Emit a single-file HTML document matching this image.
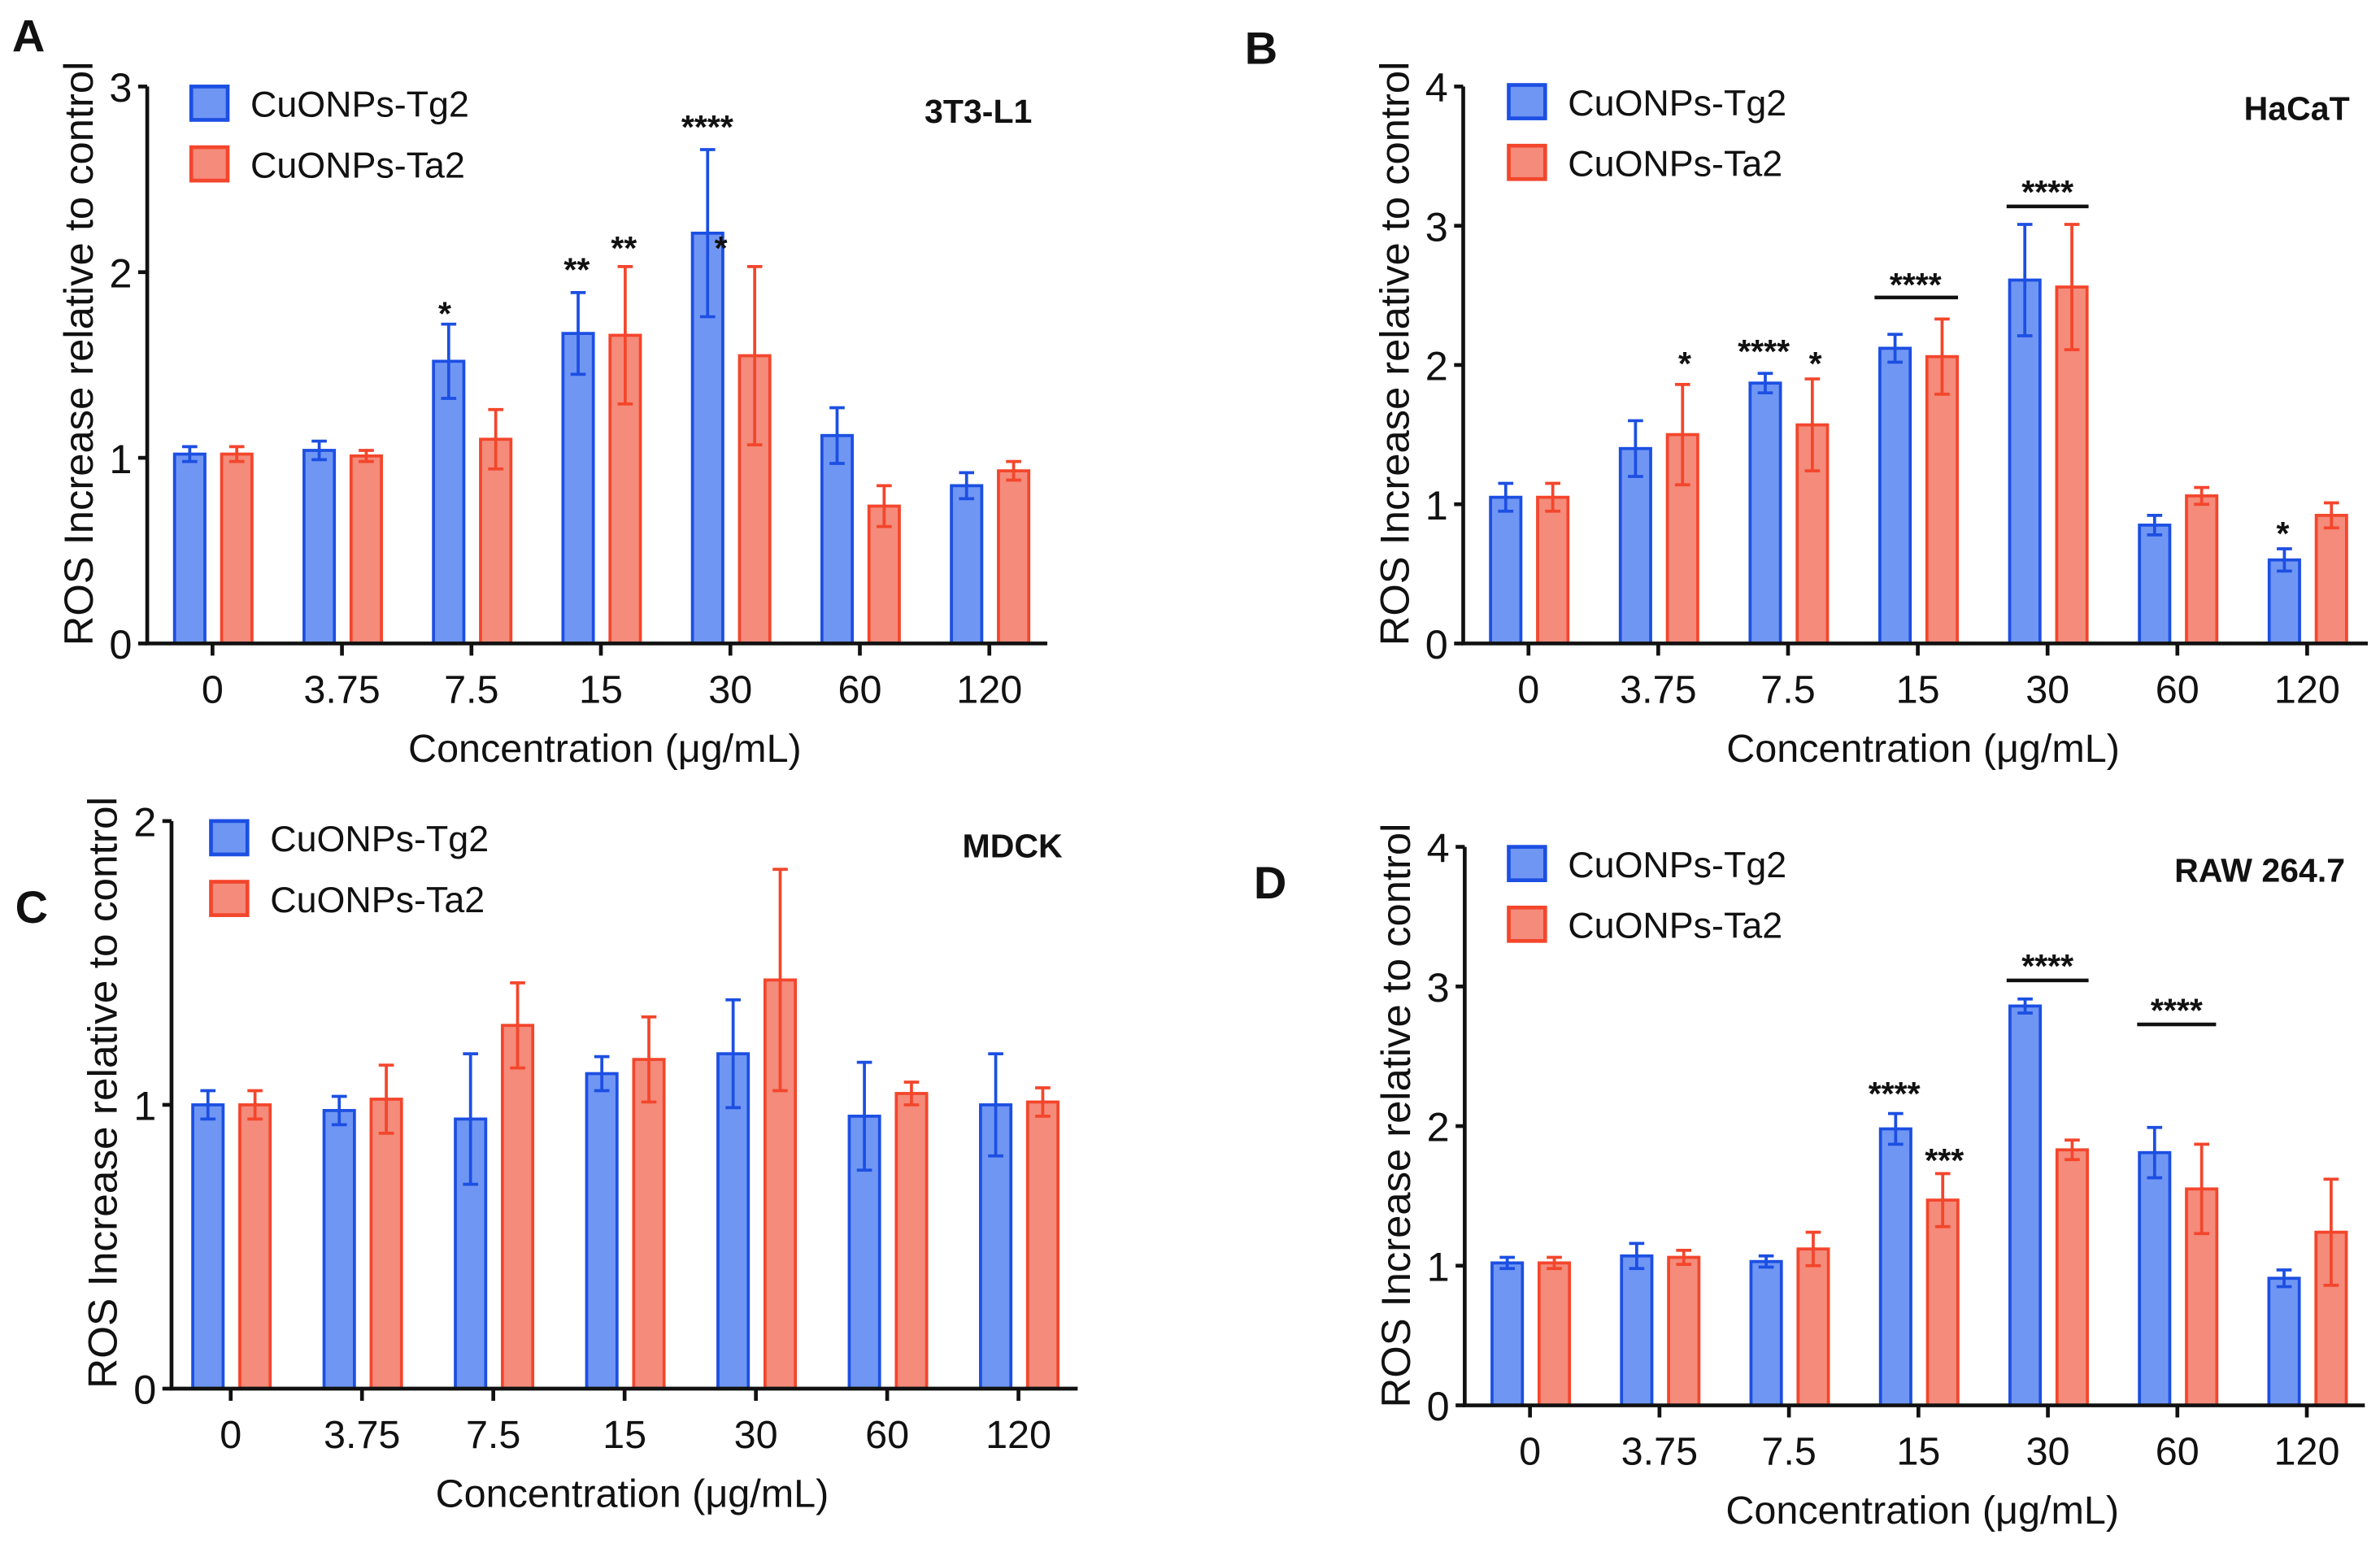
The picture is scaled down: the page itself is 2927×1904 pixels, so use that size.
<!DOCTYPE html>
<html><head><meta charset="utf-8"><style>
html,body{margin:0;padding:0;background:#fff}
svg{display:block}
text{font-family:"Liberation Sans Narrow","Liberation Sans",sans-serif;fill:#111}
</style></head><body>
<svg id="fig" width="2927" height="1904" viewBox="0 0 1568 1020" preserveAspectRatio="none" xmlns="http://www.w3.org/2000/svg"></svg>
<script>
const categories = ["0","3.75","7.5","15","30","60","120"];
const aTg2 = [1.02,1.04,1.52,1.67,2.21,1.12,0.85];
const aTg2Err = [0.04,0.05,0.20,0.22,0.45,0.15,0.07];
const aTa2 = [1.02,1.01,1.10,1.66,1.55,0.74,0.93];
const aTa2Err = [0.04,0.03,0.16,0.37,0.48,0.11,0.05];
const bTg2 = [1.05,1.40,1.87,2.12,2.61,0.85,0.60];
const bTg2Err = [0.10,0.20,0.07,0.10,0.40,0.07,0.08];
const bTa2 = [1.05,1.50,1.57,2.06,2.56,1.06,0.92];
const bTa2Err = [0.10,0.36,0.33,0.27,0.45,0.06,0.09];
const cTg2 = [1.00,0.98,0.95,1.11,1.18,0.96,1.00];
const cTg2Err = [0.05,0.05,0.23,0.06,0.19,0.19,0.18];
const cTa2 = [1.00,1.02,1.28,1.16,1.44,1.04,1.01];
const cTa2Err = [0.05,0.12,0.15,0.15,0.39,0.04,0.05];
const dTg2 = [1.02,1.07,1.03,1.98,2.86,1.81,0.91];
const dTg2Err = [0.04,0.09,0.04,0.11,0.05,0.18,0.06];
const dTa2 = [1.02,1.06,1.12,1.47,1.83,1.55,1.24];
const dTa2Err = [0.04,0.05,0.12,0.19,0.07,0.32,0.38];
const aTicks = [0,1,2,3];
const bTicks = [0,1,2,3,4];
const cTicks = [0,1,2];
const dTicks = [0,1,2,3,4];

const NS="http://www.w3.org/2000/svg";
const svg=document.getElementById('fig');
function mk(tag,attrs,parent){const e=document.createElementNS(NS,tag);for(const k in attrs)e.setAttribute(k,attrs[k]);(parent||svg).appendChild(e);return e;}
const BLUE_F="#7096f4",BLUE_S="#1c4fe2",RED_F="#f48b7b",RED_S="#f3462c";

function panel(p){
  const g=mk('g',{});
  
  
  const ymax=p.ticks[p.ticks.length-1];
  const yS=v=>p.y0-(p.y0-p.yTop)*v/ymax;
  const xS=i=>p.x0tick+i*p.step;
  [[p.tg,p.tgE,-15,BLUE_F,BLUE_S,'tg2'],[p.ta,p.taE,16,RED_F,RED_S,'ta2']].forEach(s=>{
    s[0].forEach((v,i)=>{
      const cx=xS(i)+s[2];
      const r=mk('rect',{x:cx-10,y:yS(v),width:20,height:p.y0-yS(v),fill:s[3],stroke:s[4],'stroke-width':2},g);
      
      
      const e=s[1][i];
      const eb=mk('path',{d:`M${cx} ${yS(v-e)}V${yS(v+e)}M${cx-5} ${yS(v+e)}H${cx+5}M${cx-5} ${yS(v-e)}H${cx+5}`,stroke:s[4],'stroke-width':2,fill:'none'},g);
      
      
    });
  });
  const ax=mk('path',{d:`M${p.ax} ${p.yTop}V${p.y0}H${p.xEnd}`,stroke:'#111','stroke-width':2.5,fill:'none'},g);
  
  
  p.ticks.forEach(t=>{
    mk('path',{d:`M${p.ax-6} ${yS(t)}H${p.ax}`,stroke:'#111','stroke-width':2.5},g);
    const tl=mk('text',{x:p.ax-10,y:yS(t)+10,'text-anchor':'end','font-size':27},g);
    tl.textContent=t;
    
    
  });
  categories.forEach((c,i)=>{
    mk('path',{d:`M${xS(i)} ${p.y0}V${p.y0+8}`,stroke:'#111','stroke-width':2.5},g);
    const tl=mk('text',{x:xS(i),y:p.y0+39,'text-anchor':'middle','font-size':26},g);
    tl.textContent=c;
    
    
  });
  const xt=mk('text',{x:p.ax+(p.xEnd-p.ax)/2+5,y:p.y0+78,'text-anchor':'middle','font-size':26},g);
  xt.textContent='Concentration (μg/mL)';
  
  
  const yt=mk('text',{x:0,y:0,'text-anchor':'middle','font-size':27,textLength:p.ytLen,lengthAdjust:'spacingAndGlyphs',transform:`translate(${p.ax-36},${p.ytCenter}) rotate(-90)`},g);
  yt.textContent='ROS Increase relative to control';
  
  
  [['CuONPs-Tg2',BLUE_F,BLUE_S,0],['CuONPs-Ta2',RED_F,RED_S,40]].forEach(l=>{
    const sw=mk('rect',{x:p.legX,y:p.legY+l[3],width:24,height:22,fill:l[1],stroke:l[2],'stroke-width':2.5},g);
    
    
    const lt=mk('text',{x:p.legX+39,y:p.legY+l[3]+20,'font-size':24},g);
    lt.textContent=l[0];
    
    
  });
  const ti=mk('text',{x:p.titleX,y:p.titleY,'text-anchor':'end','font-size':22,'font-weight':'bold'},g);
  ti.textContent=p.title;
  
  
  const le=mk('text',{x:p.letX,y:p.letY,'font-size':30,'font-weight':'bold','font-family':'Liberation Sans, sans-serif'},g);
  le.textContent=p.id;
  
  
  (p.sig||[]).forEach(s=>{
    const st=mk('text',{x:s[0],y:s[1],'text-anchor':'middle','font-size':22,'font-weight':'bold'},g);
    st.textContent=s[2];
    
    
  });
  (p.lines||[]).forEach(l=>{
    const ln=mk('path',{d:`M${l[0]} ${l[2]}H${l[1]}`,stroke:'#111','stroke-width':2.4},g);
    
    
  });
}

panel({id:'A',tg:aTg2,tgE:aTg2Err,ta:aTa2,taE:aTa2Err,ticks:aTicks,ax:97,y0:424,yTop:57,x0tick:140,step:85.3,xEnd:690,ytCenter:233,ytLen:385,
  legX:126,legY:57,title:'3T3-L1',titleX:680,titleY:81,letX:8,letY:34,
  sig:[[293,214,'*'],[380,185,'**'],[411,171,'**'],[466,91,'****'],[475,171,'*']]});
panel({id:'B',tg:bTg2,tgE:bTg2Err,ta:bTa2,taE:bTa2Err,ticks:bTicks,ax:964,y0:424,yTop:57,x0tick:1007,step:85.5,xEnd:1560,ytCenter:233,ytLen:385,
  legX:994,legY:56,title:'HaCaT',titleX:1548,titleY:79,letX:820,letY:42,
  sig:[[1110,247,'*'],[1162,239,'****'],[1196,247,'*'],[1262,195,'****'],[1349,134,'****'],[1504,359,'*']],
  lines:[[1235,1290,196],[1322,1376,136]]});
panel({id:'C',tg:cTg2,tgE:cTg2Err,ta:cTa2,taE:cTa2Err,ticks:cTicks,ax:113,y0:915,yTop:541,x0tick:152,step:86.5,xEnd:710,ytCenter:720,ytLen:390,
  legX:139,legY:541,title:'MDCK',titleX:700,titleY:565,letX:10,letY:608,sig:[]});
panel({id:'D',tg:dTg2,tgE:dTg2Err,ta:dTa2,taE:dTa2Err,ticks:dTicks,ax:965,y0:926,yTop:558,x0tick:1008,step:85.3,xEnd:1558,ytCenter:735,ytLen:385,
  legX:994,legY:558,title:'RAW 264.7',titleX:1545,titleY:581,letX:826,letY:592,
  sig:[[1248,728,'****'],[1281,772,'***'],[1349,644,'****'],[1434,673,'****']],
  lines:[[1322,1376,646],[1408,1460,675]]});
</script>
</body></html>
